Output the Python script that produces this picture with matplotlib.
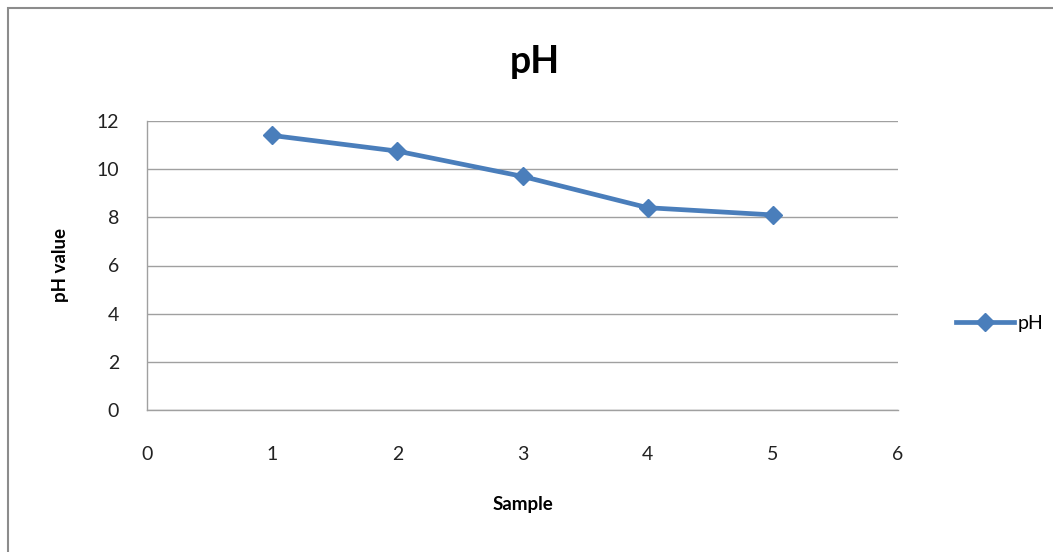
import matplotlib
matplotlib.use("Agg")
import matplotlib.pyplot as plt
from matplotlib.patches import Rectangle

plt.rcParams["font.family"] = ["Lato", "DejaVu Sans"]

samples = [1, 2, 3, 4, 5]
ph_values = [11.4, 10.75, 9.7, 8.4, 8.1]
x_ticks = [0, 1, 2, 3, 4, 5, 6]
y_ticks = [0, 2, 4, 6, 8, 10, 12]

LINE_BLUE = "#4A7EBB"
GRID_GRAY = "#A0A0A0"

fig = plt.figure(figsize=(10.53, 5.52), dpi=100)

# outer chart border
fig.patches.append(Rectangle((8 / 1053, -0.01), 1.1, 1 - 8 / 552 + 0.01,
                             transform=fig.transFigure, fill=False,
                             edgecolor="#8C8C8C", linewidth=1.5))

ax = fig.add_axes([147 / 1053, 1 - 410 / 552, (898 - 147) / 1053, (410 - 121) / 552])
ax.plot(samples, ph_values, color=LINE_BLUE, linewidth=3.4, marker="D",
        markersize=9.5, label="pH")

ax.set_xlim(0, 6)
ax.set_ylim(0, 12)
ax.set_xticks(x_ticks)
ax.set_yticks(y_ticks)
ax.tick_params(length=0, labelsize=14, colors="#222222")
ax.tick_params(axis="x", pad=26)
ax.tick_params(axis="y", pad=20)
ax.yaxis.grid(True, color=GRID_GRAY, linewidth=1)
ax.set_axisbelow(True)
for side in ("top", "right"):
    ax.spines[side].set_visible(False)
for side in ("left", "bottom"):
    ax.spines[side].set_color(GRID_GRAY)
    ax.spines[side].set_linewidth(1)

ax.set_xlabel("Sample", fontsize=13.5, fontweight="bold", labelpad=24)
ax.set_ylabel("pH value", fontsize=13.5, fontweight="bold", labelpad=20)
fig.text(535 / 1053, 1 - 62 / 552, "pH", fontsize=27, fontweight="bold",
         ha="center", va="center")

fig.legend(loc="center left", bbox_to_anchor=(938 / 1053, 1 - 323 / 552),
           frameon=False, fontsize=14, handlelength=3.0, handletextpad=0.2)

fig.savefig("out.png", dpi=100)
